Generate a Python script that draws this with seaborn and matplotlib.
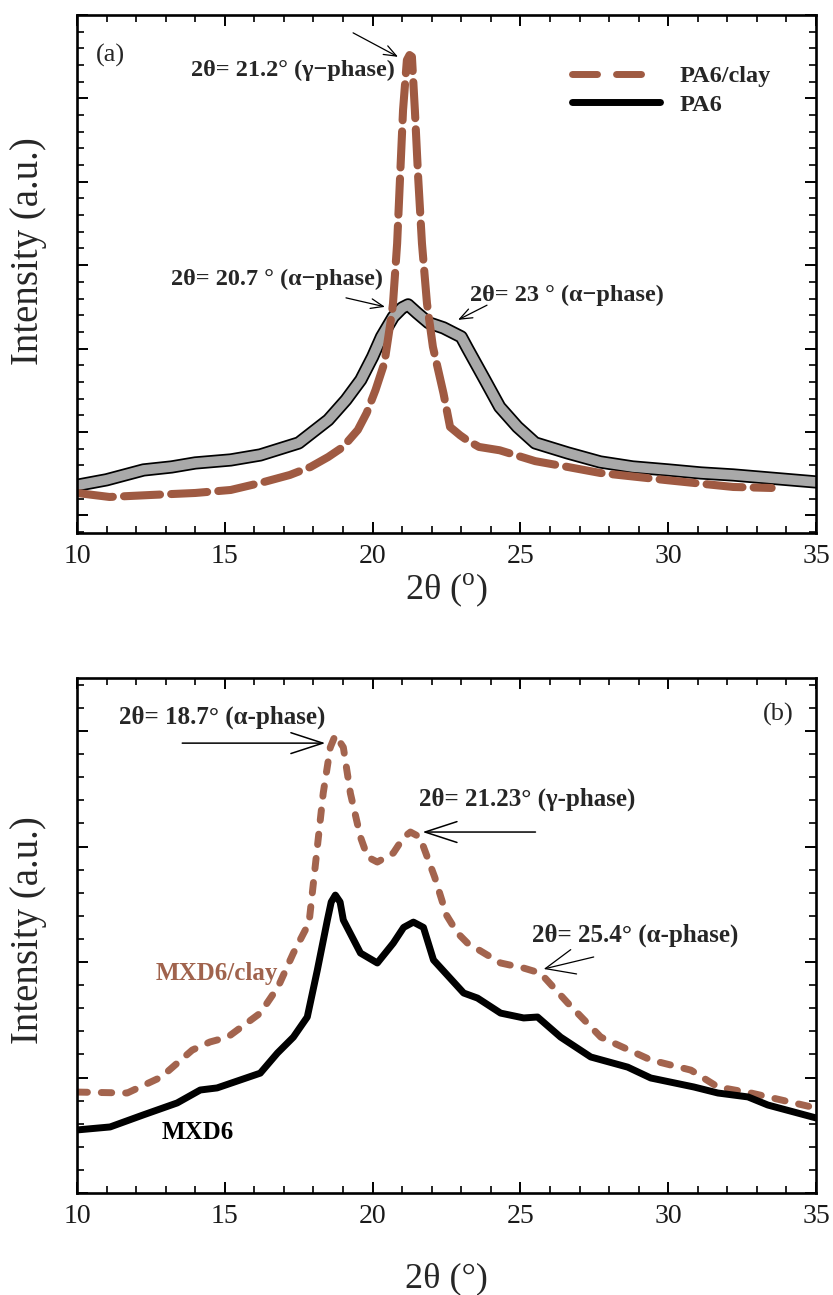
import matplotlib
matplotlib.use("Agg")
import matplotlib.pyplot as plt
import seaborn as sns
import pandas as pd
from matplotlib.ticker import MultipleLocator, NullFormatter
from matplotlib.lines import Line2D

# ---------------- data ----------------
# Panel (a): PA6 (grey/black curve)
pa6_x = [10.0, 11.0, 12.25, 13.2, 14.0, 15.2, 16.2, 17.5, 18.5, 19.1, 19.6, 20.0,
         20.3, 20.7, 21.0, 21.2, 21.5, 21.9, 22.4, 23.0, 23.2, 23.8, 24.3, 24.9,
         25.5, 26.6, 27.7, 28.8, 30.0, 31.1, 32.2, 33.4, 35.0]
pa6_y = [1.80, 2.13, 2.72, 2.90, 3.14, 3.32, 3.62, 4.34, 5.72, 6.92, 8.12, 9.50,
         10.70, 11.90, 12.44, 12.62, 12.14, 11.54, 11.24, 10.70, 10.04, 8.12, 6.50, 5.30,
         4.34, 3.74, 3.20, 2.90, 2.72, 2.54, 2.42, 2.24, 2.00]

# Panel (a): PA6/clay (brown dashed curve)
pa6clay_x = [10.0, 11.1, 12.5, 14.0, 15.2, 16.2, 17.2, 17.9, 18.5, 19.0, 19.5, 19.8,
             20.1, 20.4, 20.65, 20.69, 20.83, 20.93, 21.03, 21.16, 21.25, 21.33, 21.43,
             21.54, 21.67, 21.84, 22.04, 22.4, 22.62, 22.96, 23.2, 23.6, 24.3, 25.5,
             26.6, 27.7, 30.0, 32.2, 33.5]
pa6clay_y = [1.34, 1.10, 1.22, 1.34, 1.52, 1.94, 2.42, 2.90, 3.50, 4.10, 5.12, 6.14,
             7.52, 9.14, 12.10, 12.70, 16.30, 20.30, 24.30, 27.30, 27.60, 27.50, 24.30,
             20.30, 16.30, 12.70, 10.10, 7.30, 5.30, 4.80, 4.50, 4.10, 3.90, 3.25,
             2.90, 2.54, 2.10, 1.70, 1.64]

# Panel (b): MXD6/clay (brown dashed)
mxdclay_x = [10.0, 11.7, 12.85, 13.9, 14.5, 15.1, 16.2, 16.8, 17.32, 17.85, 18.33, 18.57,
             18.74, 19.01, 19.25, 19.59, 19.83, 20.16, 20.7, 21.05, 21.28, 21.6, 22.1, 22.5,
             22.87, 23.21, 24.33, 25.11, 25.68, 26.6, 27.72, 29.41, 30.77, 31.68,
             32.8, 35.0]
mxdclay_y = [4.37, 4.33, 5.02, 6.19, 6.54, 6.75, 7.79, 8.92, 10.39, 11.70, 17.32, 19.30,
             19.83, 19.30, 17.30, 15.41, 14.55, 14.33, 14.72, 15.40, 15.63, 15.41, 13.68, 12.03,
             11.26, 10.82, 9.96, 9.74, 9.52, 8.23, 6.75, 5.76, 5.32, 4.59,
             4.33, 3.68]

# Panel (b): MXD6 (black solid)
mxd_x = [10.0, 11.12, 12.24, 13.39, 14.17, 14.74, 16.2, 16.78, 17.32, 17.79, 18.13,
         18.47, 18.6, 18.74, 18.9, 19.01, 19.59, 20.16, 20.7, 21.05, 21.38, 21.72, 22.06,
         23.08, 23.55, 24.33, 25.11, 25.58, 26.36, 27.38, 28.63, 29.41, 30.87, 31.68,
         32.7, 33.37, 35.0]
mxd_y = [2.73, 2.86, 3.38, 3.90, 4.46, 4.55, 5.19, 6.06, 6.75, 7.62, 9.65,
         11.82, 12.60, 12.90, 12.60, 11.82, 10.39, 9.96, 10.82, 11.50, 11.73, 11.50, 10.09,
         8.66, 8.44, 7.79, 7.58, 7.62, 6.75, 5.89, 5.45, 4.98, 4.59, 4.33,
         4.16, 3.81, 3.25]

x_ticks = [10, 15, 20, 25, 30, 35]
x_tick_labels = ["10", "15", "20", "25", "30", "35"]

df_pa6 = pd.DataFrame({"x": pa6_x, "y": pa6_y})
df_pa6clay = pd.DataFrame({"x": pa6clay_x, "y": pa6clay_y})
df_mxdclay = pd.DataFrame({"x": mxdclay_x, "y": mxdclay_y})
df_mxd = pd.DataFrame({"x": mxd_x, "y": mxd_y})

# ---------------- style ----------------
sns.set_style("ticks")
plt.rcParams["font.family"] = ["Liberation Serif", "DejaVu Serif"]
plt.rcParams["mathtext.fontset"] = "custom"
plt.rcParams["mathtext.rm"] = "Liberation Serif"
plt.rcParams["lines.scale_dashes"] = False

BROWN_A = "#9F5A42"
BROWN_B = "#A3644E"
GREY = "#A9A9A9"

W, H = 833, 1295
fig = plt.figure(figsize=(W / 100, H / 100), dpi=100)
ax1 = fig.add_axes([77 / W, 1 - 533 / H, 739 / W, 518 / H])
ax2 = fig.add_axes([77 / W, 1 - 1193 / H, 739 / W, 515 / H])


def style_axes(ax, ylim):
    ax.set_xlim(10, 35)
    ax.set_ylim(*ylim)
    ax.set_xticks(x_ticks)
    ax.set_xticklabels(x_tick_labels)
    ax.xaxis.set_minor_locator(MultipleLocator(1))
    ax.yaxis.set_major_locator(MultipleLocator(5))
    ax.yaxis.set_minor_locator(MultipleLocator(1))
    ax.yaxis.set_major_formatter(NullFormatter())
    ax.tick_params(which="both", direction="in", top=True, right=True,
                   labelleft=False, color="black")
    ax.tick_params(which="major", length=8, width=1.4, labelsize=20, pad=8,
                   labelcolor="#1a1a1a")
    ax.tick_params(which="minor", length=5, width=1.2)
    for s in ax.spines.values():
        s.set_linewidth(1.9)
        s.set_color("black")
        s.set_visible(True)


# ---------------- panel (a) ----------------
sns.lineplot(data=df_pa6, x="x", y="y", ax=ax1, color="black", lw=9.5,
             solid_capstyle="round", solid_joinstyle="round")
sns.lineplot(data=df_pa6, x="x", y="y", ax=ax1, color=GREY, lw=7,
             solid_capstyle="round", solid_joinstyle="round")
sns.lineplot(data=df_pa6clay, x="x", y="y", ax=ax1, color=BROWN_A, lw=5.8,
             linestyle=(0, (26, 8)), dash_capstyle="round")
style_axes(ax1, (-1.06, 30.0))
ax1.set_xlabel("2θ ($^{\\rm o}$)", fontsize=26)
ax1.xaxis.set_label_coords(0.5, -0.075)
ax1.set_ylabel("Intensity (a.u.)", fontsize=28)
ax1.yaxis.set_label_coords(-0.041, 0.544)

handles = [
    Line2D([], [], color=BROWN_A, lw=5, linestyle=(0, (18, 13.7)), dash_capstyle="round"),
    Line2D([], [], color="black", lw=5, solid_capstyle="round"),
]
ax1.legend(handles=handles, labels=["PA6/clay", "PA6"], loc="upper left",
           bbox_to_anchor=(0.654, 0.926), frameon=False, borderpad=0,
           handlelength=3.6, handletextpad=0.8, labelspacing=0.25,
           prop={"weight": "bold", "size": 17.5})

txt_a = dict(fontsize=17.5, fontweight="bold", ha="center", va="center")
ax1.text(11.12, 27.6, "(a)", fontsize=19, ha="center", va="center")
ax1.text(17.31, 26.65, "2θ= 21.2° (γ−phase)", **txt_a)
ax1.text(16.77, 14.12, "2θ= 20.7 ° (α−phase)", **txt_a)
ax1.text(26.58, 13.2, "2θ= 23 ° (α−phase)", **txt_a)
arr_a = dict(arrowstyle="->,head_length=9,head_width=3.5", lw=0.9, color="black",
             mutation_scale=1, shrinkA=0, shrinkB=0)
ax1.annotate("", xy=(20.86, 27.49), xytext=(19.34, 28.93), arrowprops=arr_a)
ax1.annotate("", xy=(20.42, 12.5), xytext=(19.10, 13.04), arrowprops=arr_a)
ax1.annotate("", xy=(22.89, 11.72), xytext=(23.87, 12.6), arrowprops=arr_a)

# ---------------- panel (b) ----------------
sns.lineplot(data=df_mxdclay, x="x", y="y", ax=ax2, color=BROWN_B, lw=5,
             linestyle=(0, (7.5, 10)), dash_capstyle="round")
sns.lineplot(data=df_mxd, x="x", y="y", ax=ax2, color="black", lw=5,
             solid_capstyle="round", solid_joinstyle="round")
style_axes(ax2, (0, 22.3))
ax2.set_xlabel("2θ (°)", fontsize=26)
ax2.xaxis.set_label_coords(0.5, -0.135)
ax2.set_ylabel("Intensity (a.u.)", fontsize=28)
ax2.yaxis.set_label_coords(-0.041, 0.51)

txt_b = dict(fontsize=18, fontweight="bold", ha="center", va="center")
ax2.text(33.71, 20.74, "(b)", fontsize=19, ha="center", va="center")
ax2.text(14.91, 20.6, "2θ= 18.7° (α-phase)", **txt_b)
ax2.text(25.24, 17.06, "2θ= 21.23° (γ-phase)", **txt_b)
ax2.text(28.90, 11.17, "2θ= 25.4° (α-phase)", **txt_b)
ax2.text(14.74, 9.52, "MXD6/clay", color="#A0634D", **txt_b)
ax2.text(14.10, 2.64, "MXD6", color="black", **txt_b)
arr_b = dict(arrowstyle="->,head_length=23,head_width=7.5", lw=1.1, color="black",
             mutation_scale=1, shrinkA=0, shrinkB=0)
ax2.annotate("", xy=(18.40, 19.48), xytext=(13.56, 19.48), arrowprops=arr_b)
ax2.annotate("", xy=(21.69, 15.63), xytext=(25.51, 15.63), arrowprops=arr_b)
arr_b2 = dict(arrowstyle="->,head_length=21,head_width=9", lw=0.9, color="black",
              mutation_scale=1, shrinkA=0, shrinkB=0)
ax2.annotate("", xy=(25.79, 9.70), xytext=(27.48, 10.22), arrowprops=arr_b2)

fig.savefig("out.png", dpi=100, facecolor="white")
